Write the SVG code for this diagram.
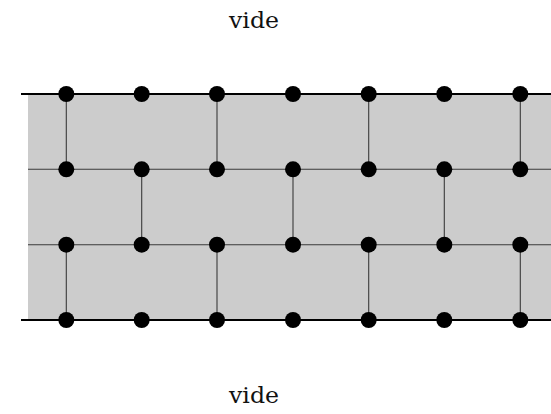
<svg xmlns="http://www.w3.org/2000/svg" width="551" height="414" viewBox="0 0 551 414">
<style>
.bg{fill:#cccccc;stroke:none}
.edge{stroke:#000;stroke-width:2.2;fill:none}
.mid{stroke:#3a3a3a;stroke-width:1.1;fill:none}
.link{stroke:#3a3a3a;stroke-width:1.1;fill:none}
.dot{fill:#000}
.lbl{font-family:"DejaVu Serif","Liberation Serif",serif;font-size:23px;fill:#111}
</style>
<rect class="bg" x="28" y="94" width="523" height="226"/>
<g id="labels">
<text class="lbl" x="229" y="27.5" textLength="50" lengthAdjust="spacingAndGlyphs">vide</text>
<text class="lbl" x="229" y="403.3" textLength="50" lengthAdjust="spacingAndGlyphs">vide</text>
</g>
<g id="connectors">
<line class="edge" x1="21" y1="94" x2="551" y2="94"/>
<line class="mid" x1="28" y1="169.3" x2="551" y2="169.3"/>
<line class="mid" x1="28" y1="244.7" x2="551" y2="244.7"/>
<line class="edge" x1="21" y1="320" x2="551" y2="320"/>
<line class="link" x1="66.3" y1="94" x2="66.3" y2="169.3"/>
<line class="link" x1="217" y1="94" x2="217" y2="169.3"/>
<line class="link" x1="368.7" y1="94" x2="368.7" y2="169.3"/>
<line class="link" x1="520.3" y1="94" x2="520.3" y2="169.3"/>
<line class="link" x1="141.7" y1="169.3" x2="141.7" y2="244.7"/>
<line class="link" x1="293" y1="169.3" x2="293" y2="244.7"/>
<line class="link" x1="444.3" y1="169.3" x2="444.3" y2="244.7"/>
<line class="link" x1="66.3" y1="244.7" x2="66.3" y2="320"/>
<line class="link" x1="217" y1="244.7" x2="217" y2="320"/>
<line class="link" x1="368.7" y1="244.7" x2="368.7" y2="320"/>
<line class="link" x1="520.3" y1="244.7" x2="520.3" y2="320"/>
</g>
<defs><circle id="d" r="8" class="dot"/></defs>
<g id="row1">
<use id="n11" href="#d" x="66.3" y="94"/><use id="n12" href="#d" x="141.7" y="94"/><use id="n13" href="#d" x="217" y="94"/><use id="n14" href="#d" x="293" y="94"/><use id="n15" href="#d" x="368.7" y="94"/><use id="n16" href="#d" x="444.3" y="94"/><use id="n17" href="#d" x="520.3" y="94"/>
</g>
<g id="row2">
<use id="n21" href="#d" x="66.3" y="169.3"/><use id="n22" href="#d" x="141.7" y="169.3"/><use id="n23" href="#d" x="217" y="169.3"/><use id="n24" href="#d" x="293" y="169.3"/><use id="n25" href="#d" x="368.7" y="169.3"/><use id="n26" href="#d" x="444.3" y="169.3"/><use id="n27" href="#d" x="520.3" y="169.3"/>
</g>
<g id="row3">
<use id="n31" href="#d" x="66.3" y="244.7"/><use id="n32" href="#d" x="141.7" y="244.7"/><use id="n33" href="#d" x="217" y="244.7"/><use id="n34" href="#d" x="293" y="244.7"/><use id="n35" href="#d" x="368.7" y="244.7"/><use id="n36" href="#d" x="444.3" y="244.7"/><use id="n37" href="#d" x="520.3" y="244.7"/>
</g>
<g id="row4">
<use id="n41" href="#d" x="66.3" y="320"/><use id="n42" href="#d" x="141.7" y="320"/><use id="n43" href="#d" x="217" y="320"/><use id="n44" href="#d" x="293" y="320"/><use id="n45" href="#d" x="368.7" y="320"/><use id="n46" href="#d" x="444.3" y="320"/><use id="n47" href="#d" x="520.3" y="320"/>
</g>
</svg>
